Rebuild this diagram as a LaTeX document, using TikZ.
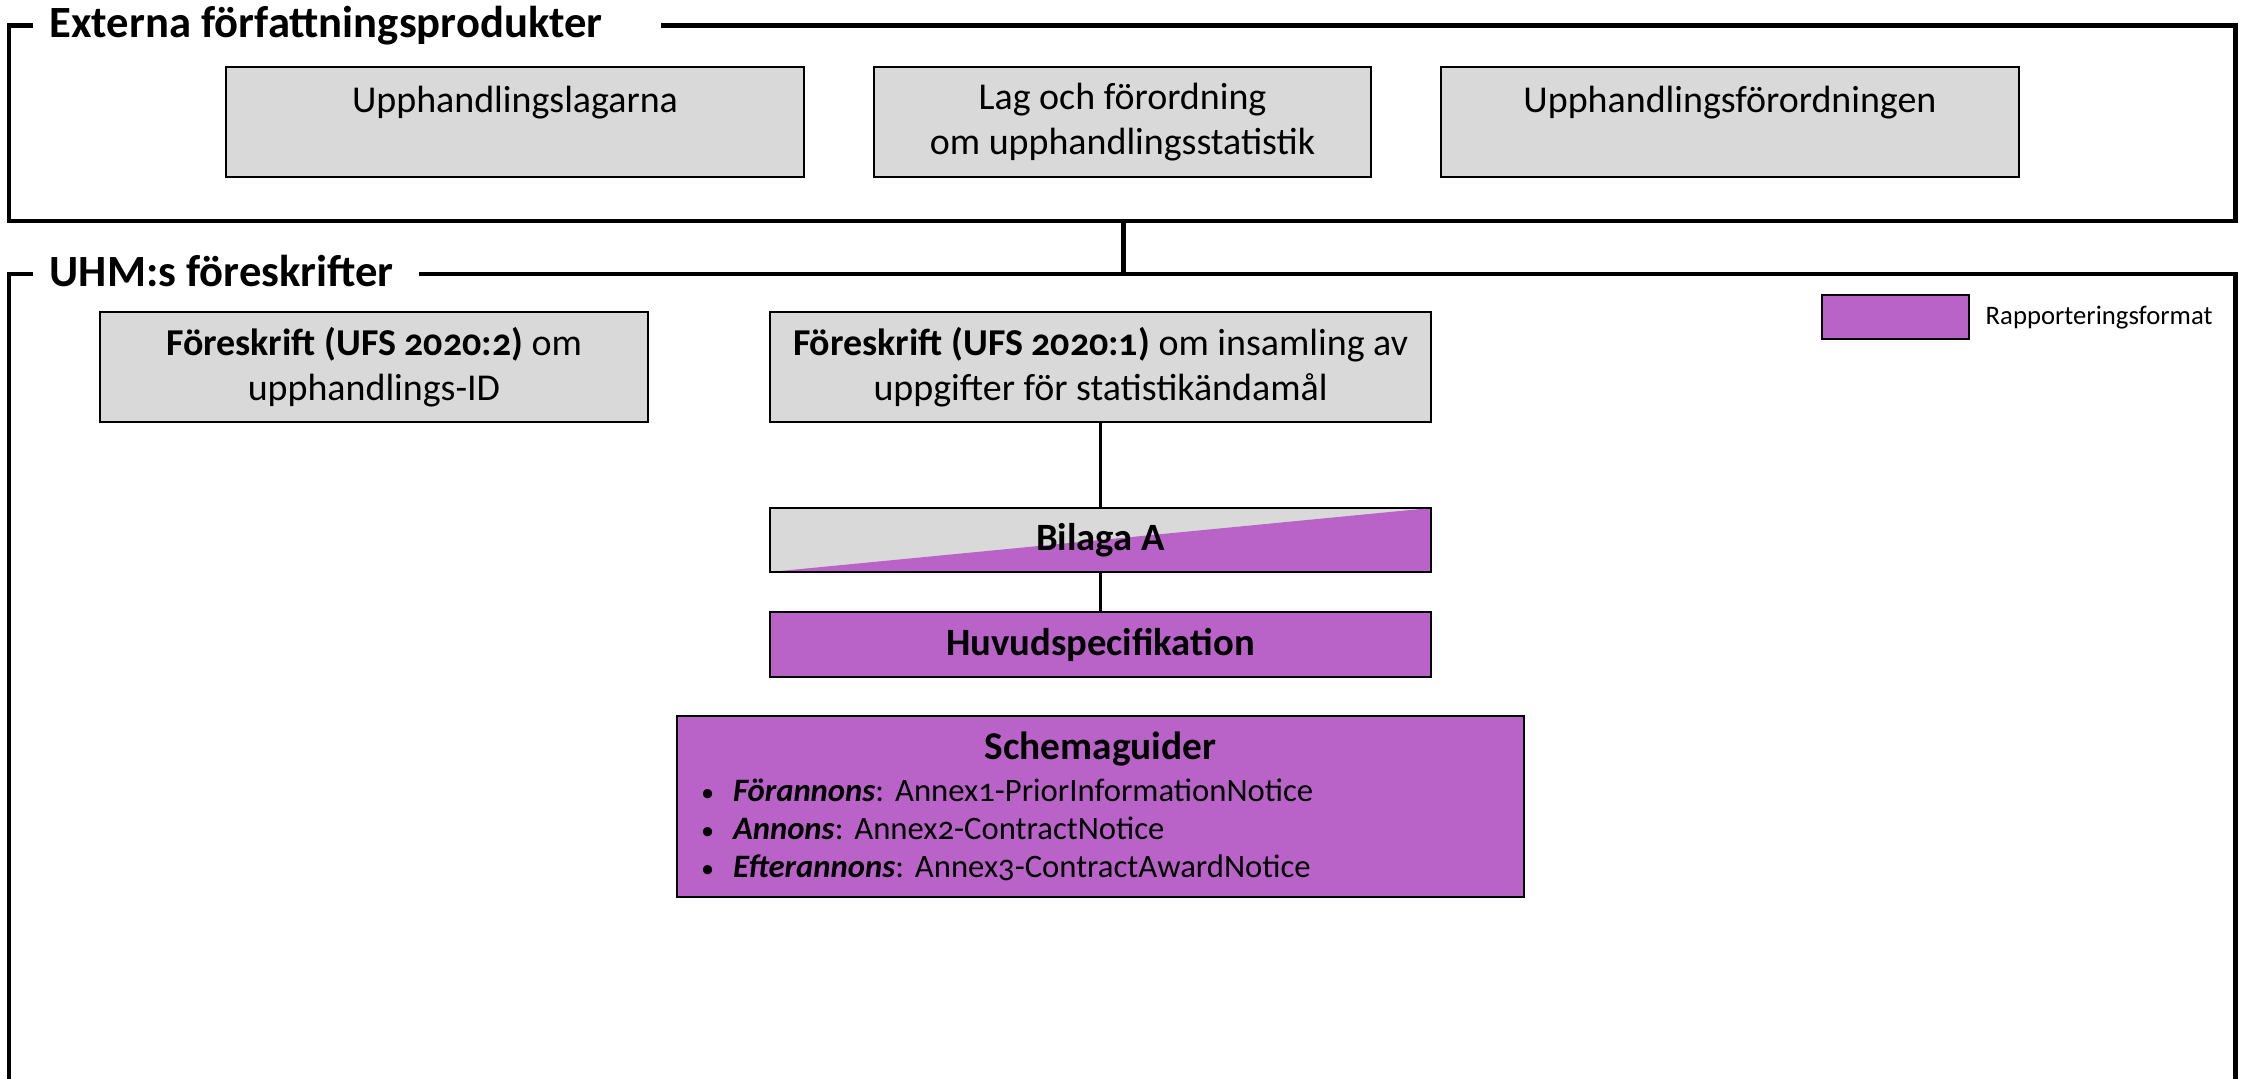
\documentclass[tikz,border=0pt]{standalone}
\usepackage{fontspec}
\setmainfont{Carlito}[Numbers=OldStyle]
\definecolor{uhmgray}{HTML}{D9D9D9}
\definecolor{uhmpurple}{HTML}{B963C9}
\frenchspacing

\begin{document}
\begin{tikzpicture}[x=0.1mm,y=-0.1mm,
  frame/.style={line width=1.42pt},
  link/.style={line width=0.6pt},
  box/.style={draw, line width=0.6pt, fill=uhmgray, align=center, inner sep=0pt,
    font=\fontsize{10.8}{12.8}\selectfont},
  fmtbox/.style={box, fill=uhmpurple},
  boldbox/.style={fmtbox, font=\fontsize{11}{13}\selectfont\bfseries},
  title/.style={anchor=base west, inner sep=0pt, font=\fontsize{12.7}{14}\selectfont\bfseries}]

\useasboundingbox (0,0) rectangle (2244,1079);

\draw[frame] (661,26) -- (2235,26) -- (2235,221) -- (9,221) -- (9,26) -- (33,26);
\node[title] (ext) at (49,38) {Externa författningsprodukter};

\draw[frame] (419,274) -- (2235,274) -- (2235,1100);
\draw[frame] (9,1100) -- (9,274) -- (33,274);
\node[title] (uhm) at (49,287) {UHM:s föreskrifter};

\coordinate (extbottom) at (1123,221);
\coordinate (uhmtop) at (1123,274);
\draw[frame] (extbottom) -- (uhmtop);

\node[box, minimum width=57.8mm, minimum height=11mm] (lagarna) at (515,122)
  {Upphandlingslagarna\\\mbox{}};
\node[box, minimum width=49.7mm, minimum height=11mm] (statlag) at (1122.5,122)
  {Lag och förordning\\om upphandlingsstatistik};
\node[box, minimum width=57.8mm, minimum height=11mm] (forordn) at (1730,122)
  {Upphandlingsförordningen\\\mbox{}};

\node[box, minimum width=54.8mm, minimum height=11mm] (ufs2) at (374,367)
  {\textbf{Föreskrift (UFS 2020:2)} om\\upphandlings-ID};
\node[box, minimum width=66.1mm, minimum height=11mm] (ufs1) at (1100.5,367)
  {\textbf{Föreskrift (UFS 2020:1)} om insamling av\\uppgifter för statistikändamål};

\node[box, minimum width=66.1mm, minimum height=6.4mm, font=\fontsize{11}{13}\selectfont\bfseries,
  path picture={\fill[uhmpurple] (path picture bounding box.south west)
    -- (path picture bounding box.south east) -- (path picture bounding box.north east) -- cycle;}]
  (bilaga) at (1100.5,540) {Bilaga A};
\node[boldbox, minimum width=66.1mm, minimum height=6.5mm] (huvud) at (1100.5,644.5) {Huvudspecifikation};

\draw[link] (ufs1) -- (bilaga);
\draw[link] (bilaga) -- (huvud);

\node[fmtbox, minimum width=84.7mm, minimum height=18.1mm, text width=79.9mm, align=left,
  font=\fontsize{9.3}{10.9}\selectfont] (schema) at (1100.5,806.5)
  {{\centering\fontsize{11.2}{14}\selectfont\bfseries Schemaguider\par}\vspace{1pt}
   \makebox[3.2mm][l]{\scalebox{0.8}{•}}\textbf{\textit{Förannons}}: Annex1-PriorInformationNotice\\
   \makebox[3.2mm][l]{\scalebox{0.8}{•}}\textbf{\textit{Annons}}: Annex2-ContractNotice\\
   \makebox[3.2mm][l]{\scalebox{0.8}{•}}\textbf{\textit{Efterannons}}: Annex3-ContractAwardNotice};

\node[fmtbox, minimum width=14.7mm, minimum height=4.4mm] (legend) at (1895.5,317) {};
\node[anchor=west, inner sep=0pt, font=\fontsize{7.6}{9}\selectfont] (legendtext) at (1985,318)
  {Rapporteringsformat};

\end{tikzpicture}
\end{document}
